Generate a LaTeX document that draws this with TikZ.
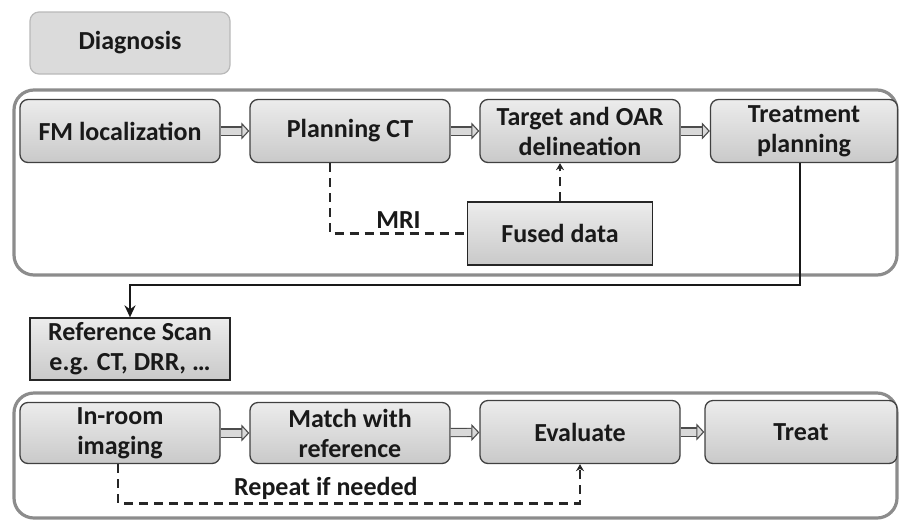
\documentclass[tikz,border=0pt]{standalone}
\usepackage{fontspec}
\setmainfont{Carlito}
\usetikzlibrary{arrows.meta}

\begin{document}
\begin{tikzpicture}[x=1pt,y=-1pt,
  every node/.style={font=\fontsize{26}{30}\selectfont\bfseries, text=black!90, inner sep=1pt, align=center},
  stagebox/.style={draw=black!75, line width=1.3pt, rounded corners=8pt, top color=gray!15, bottom color=gray!42, minimum width=200pt, minimum height=63pt},
  scanbox/.style={draw=black!85, line width=1.3pt, top color=gray!15, bottom color=gray!42, minimum width=200pt, minimum height=62pt},
  diagbox/.style={draw=gray!55, line width=1.2pt, rounded corners=9pt, fill=gray!28, minimum width=200pt, minimum height=62pt},
  groupframe/.style={draw=gray!90, line width=3.2pt, rounded corners=20pt},
  blockarr/.style={draw=black!70, line width=1.1pt, double=gray!30, double distance=7pt, -{Triangle[length=8pt, width=17pt, fill=gray!30]}},
  dashline/.style={draw=black!85, line width=2.8pt, dash pattern=on 9pt off 6pt},
  flowline/.style={draw=black!90, line width=2.6pt, -{Stealth[length=12pt, width=11pt]}}]
  \useasboundingbox (0,0) rectangle (899,520);

  % frames
  \draw[groupframe] (14,90) rectangle (897,275);
  \draw[groupframe] (14,393) rectangle (897,518);

  \node[diagbox] (diag) at (130,43) {Diagnosis};

  % planning stage
  \node[stagebox] (fm) at (120,131) {FM localization};
  \node[stagebox] (pct) at (350,131) {Planning CT};
  \node[stagebox] (tgt) at (580,131) {Target and OAR\\delineation};
  \node[stagebox, minimum width=187pt] (tp) at (804,131) {Treatment\\planning};
  \node[scanbox, minimum width=185pt, minimum height=63pt] (fused) at (560,233.5) {Fused data};

  \draw[blockarr] (fm) -- (pct);
  \draw[blockarr] (pct) -- (tgt);
  \draw[blockarr] (tgt) -- (tp);
  \draw[dashline] ([xshift=-20pt]pct.south) |- node[pos=0.75, above=3pt] {MRI} (fused.west);
  \draw[dashline, -{Stealth[length=7pt, width=8pt]}] (fused.north) -- (fused.north |- tgt.south);

  % reference
  \node[scanbox] (ref) at (130,349) {Reference Scan\\e.g. CT, DRR, \dots};
  \coordinate (bend) at (800,285);
  \draw[flowline] ([xshift=-4pt]tp.south) -- ([xshift=-4pt]tp.south |- bend) -| (ref.north);

  % treatment stage
  \node[stagebox, minimum height=61pt] (room) at (120,433) {In-room\\imaging};
  \node[stagebox, minimum height=61pt] (match) at (350,433) {Match with\\reference};
  \node[stagebox] (eval) at (580,432) {Evaluate};
  \node[stagebox, minimum width=192pt] (treat) at (801,432) {Treat};

  \draw[blockarr] (room) -- (match);
  \draw[blockarr] (match) -- (eval);
  \draw[blockarr] (eval) -- (treat);
  \draw[dashline, -{Stealth[length=7pt, width=8pt]}] ([xshift=-2pt]room.south) |- node[pos=0.725, above=1pt] {Repeat if needed} ([yshift=-39pt]eval.south) -- (eval.south);
\end{tikzpicture}
\end{document}
